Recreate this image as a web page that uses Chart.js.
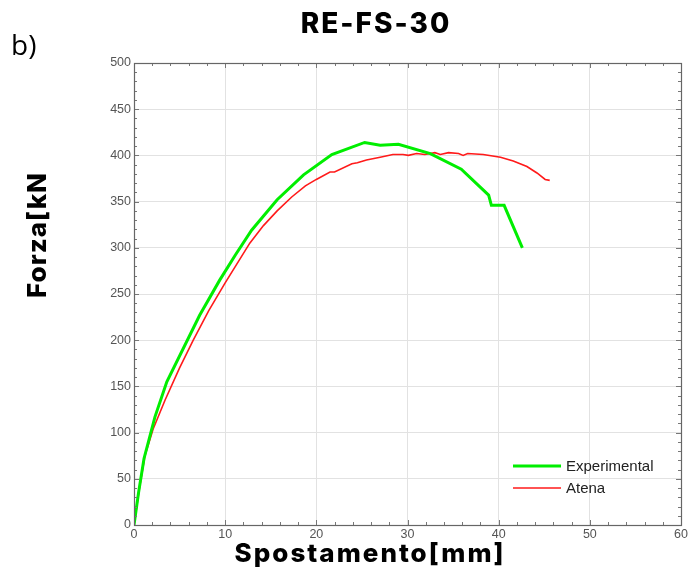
<!DOCTYPE html>
<html>
<head>
<meta charset="utf-8">
<script src="https://cdn.jsdelivr.net/npm/chart.js@4"></script>
<style>
html,body{margin:0;padding:0;background:#fff;}
canvas{display:block;}
</style>
</head>
<body>
<canvas id="c" width="698" height="571"></canvas>
<script>
const titleText = "RE-FS-30";
const panelLabel = "b)";
const xTitle = "Spostamento[mm]";
const yTitle = "Forza[kN";
const seriesNames = ["Experimental", "Atena"];

const expX = [0, 0.5, 1.1, 2.3, 3.6, 7.2, 9.4, 11.1, 12.9, 15.7, 18.6, 21.7, 25.3, 27.0, 29.0, 32.5, 35.9, 38.9, 39.2, 40.6, 42.6];
const expY = [0, 35, 72, 117, 155, 227, 265, 292, 319, 352, 379, 401, 414, 411, 412, 402, 385, 357, 346, 346, 300];

const atenaX = [0, 0.6, 1.2, 2.1, 3.4, 5.0, 6.5, 8.2, 10.0, 12.7, 14.2, 15.7, 17.3, 18.8, 20.0, 21.5, 22.0, 23.9, 24.5, 25.5, 27.0, 28.4, 29.5, 30.1, 31.0, 31.9, 33.0, 33.6, 34.5, 35.6, 36.1, 36.6, 38.3, 40.2, 41.6, 43.1, 44.2, 45.1, 45.6];
const atenaY = [0, 40, 75, 104, 135, 170, 200, 232, 262, 305, 324, 340, 355, 367, 374, 382, 382, 391, 392, 395, 398, 401, 401, 400, 402, 401, 403, 401, 403, 402, 400, 402, 401, 398, 394, 388, 381, 374, 373];

const xMin = 0, xMax = 60, xStep = 10, xMinor = 2;
const yMin = 0, yMax = 500, yStep = 50, yMinor = 10;

const toPts = (xs, ys) => xs.map((x, i) => ({x: x, y: ys[i]}));

const framePlugin = {
  id: 'frame',
  afterDraw(chart) {
    const ctx = chart.ctx;
    const a = chart.chartArea;
    const xs = chart.scales.x, ys = chart.scales.y;
    ctx.save();
    ctx.strokeStyle = '#777';
    ctx.lineWidth = 1;
    ctx.beginPath();
    for (let v = xMin; v <= xMax + 1e-9; v += xMinor) {
      const px = Math.round(xs.getPixelForValue(v)) + 0.5;
      const len = (Math.abs(v % xStep) < 1e-9) ? 5 : 3;
      ctx.moveTo(px, a.bottom); ctx.lineTo(px, a.bottom - len);
      ctx.moveTo(px, a.top); ctx.lineTo(px, a.top + len);
    }
    for (let v = yMin; v <= yMax + 1e-9; v += yMinor) {
      const py = Math.round(ys.getPixelForValue(v)) + 0.5;
      const len = (Math.abs(v % yStep) < 1e-9) ? 5 : 3;
      ctx.moveTo(a.left, py); ctx.lineTo(a.left + len, py);
      ctx.moveTo(a.right, py); ctx.lineTo(a.right - len, py);
    }
    ctx.stroke();
    ctx.strokeStyle = '#666';
    ctx.lineWidth = 1.2;
    ctx.strokeRect(Math.round(a.left) + 0.5, Math.round(a.top) + 0.5, Math.round(a.right - a.left), Math.round(a.bottom - a.top));

    // legend
    const ds = chart.data.datasets;
    const lx0 = 513, lx1 = 561, ly = [466, 488];
    ctx.font = '15px "Liberation Sans", Arial, sans-serif';
    ctx.textBaseline = 'middle';
    ctx.textAlign = 'left';
    ds.forEach((d, i) => {
      ctx.strokeStyle = d.borderColor;
      ctx.lineWidth = d.borderWidth;
      ctx.beginPath();
      ctx.moveTo(lx0, ly[i]); ctx.lineTo(lx1, ly[i]);
      ctx.stroke();
      ctx.fillStyle = '#222';
      ctx.fillText(d.label, 566, ly[i] + 1);
    });

    // titles
    ctx.fillStyle = '#000';
    ctx.textAlign = 'center';
    ctx.textBaseline = 'alphabetic';
    ctx.letterSpacing = '2px';
    ctx.font = '800 28px Inter, "Open Sans", sans-serif';
    ctx.fillText(titleText, 376, 33);
    ctx.font = '800 26px Inter, "Open Sans", sans-serif';
    ctx.fillText(xTitle, 370, 562);
    ctx.letterSpacing = '1px';
    ctx.save();
    ctx.translate(46, 235);
    ctx.rotate(-Math.PI / 2);
    ctx.fillText(yTitle, 0, 0);
    ctx.restore();
    ctx.letterSpacing = '0px';
    ctx.textAlign = 'left';
    ctx.font = '28px "Open Sans", Inter, sans-serif';
    ctx.fillText(panelLabel, 11, 55);
    ctx.restore();
  }
};

new Chart(document.getElementById('c'), {
  type: 'scatter',
  data: {
    datasets: [
      {label: seriesNames[0], data: toPts(expX, expY), showLine: true, borderColor: '#00ee00', backgroundColor: '#00ee00', borderWidth: 3, pointRadius: 0, tension: 0},
      {label: seriesNames[1], data: toPts(atenaX, atenaY), showLine: true, borderColor: '#ff1a1a', backgroundColor: '#ff1a1a', borderWidth: 1.6, pointRadius: 0, tension: 0}
    ]
  },
  options: {
    responsive: false,
    devicePixelRatio: 1,
    animation: false,
    layout: {padding: {top: 63, right: 17, left: 0, bottom: 0}},
    plugins: {legend: {display: false}, title: {display: false}, tooltip: {enabled: false}},
    scales: {
      x: {
        type: 'linear', min: xMin, max: xMax,
        afterFit: s => { s.height = 46; },
        ticks: {stepSize: xStep, color: '#555', padding: 2, font: {family: '"Liberation Sans", Arial, sans-serif', size: 12.5}},
        grid: {color: '#e2e2e2', drawTicks: false},
        border: {display: false}
      },
      y: {
        type: 'linear', min: yMin, max: yMax,
        afterFit: s => { s.width = 134; },
        ticks: {stepSize: yStep, color: '#555', padding: 3, font: {family: '"Liberation Sans", Arial, sans-serif', size: 12.5}},
        grid: {color: '#e2e2e2', drawTicks: false},
        border: {display: false}
      }
    }
  },
  plugins: [framePlugin]
});
</script>
</body>
</html>
